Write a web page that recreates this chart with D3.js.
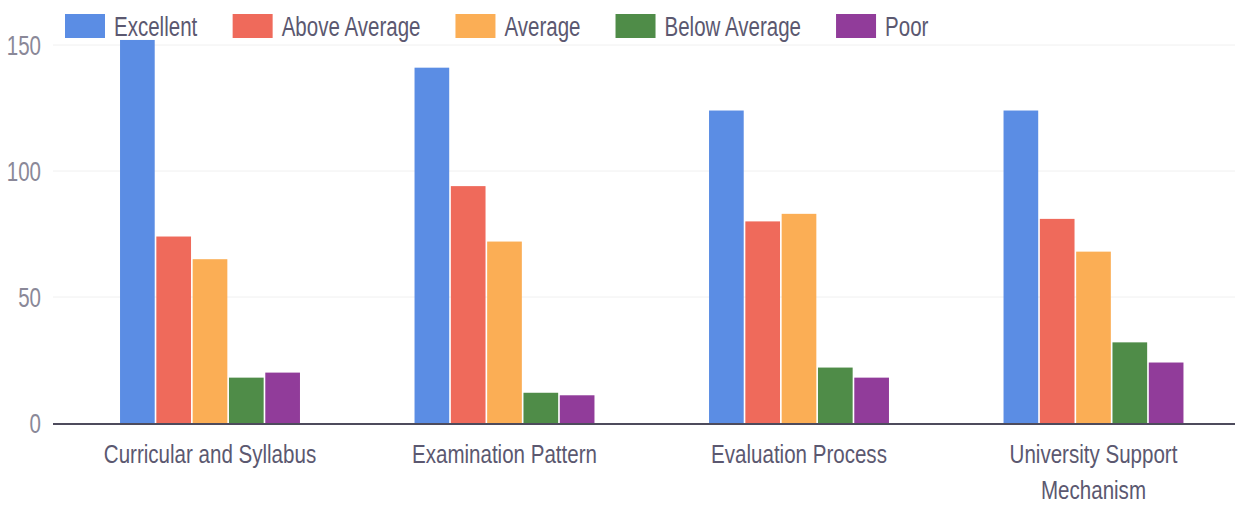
<!DOCTYPE html>
<html>
<head>
<meta charset="utf-8">
<script src="https://cdn.jsdelivr.net/npm/d3@7"></script>
<style>
  body { margin: 0; background: #fff; }
  text { font-family: "Liberation Sans", Arial, sans-serif; }
</style>
</head>
<body>
<script>
const width = 1235;
const height = 507;

const categories = [
  ["Curricular and Syllabus"],
  ["Examination Pattern"],
  ["Evaluation Process"],
  ["University Support", "Mechanism"]
];
const seriesNames = ["Excellent", "Above Average", "Average", "Below Average", "Poor"];
const excellent = [152, 141, 124, 124];
const aboveAverage = [74, 94, 80, 81];
const average = [65, 72, 83, 68];
const belowAverage = [18, 12, 22, 32];
const poor = [20, 11, 18, 24];
const yTicks = [0, 50, 100, 150];
const colors = ["#5b8de4", "#ef6a5b", "#fbae55", "#4f8c48", "#913c9a"];

const series = [excellent, aboveAverage, average, belowAverage, poor];
const catKeys = categories.map(c => c.join(" "));

// squeeze text horizontally: the source font is tall and narrow
function squeeze(sel, k) {
  sel.each(function() {
    var len = this.getComputedTextLength();
    d3.select(this).attr("textLength", len * k).attr("lengthAdjust", "spacingAndGlyphs");
  });
}

var svg = d3
  .select("body")
  .append("svg")
  .attr("width", width)
  .attr("height", height);

var x0 = d3.scaleBand()
  .domain(catKeys)
  .range([62.75, 1240.75])
  .paddingInner(0.389)
  .paddingOuter(0.1945);

var x1 = d3.scaleBand()
  .domain(seriesNames)
  .range([0, x0.bandwidth()])
  .paddingInner(0.045);

var y = d3.scaleLinear()
  .domain([0, 150])
  .range([423, 45]);

// gridlines
svg.append("g")
  .selectAll("line")
  .data(yTicks.slice(1))
  .enter()
  .append("line")
  .attr("x1", 53)
  .attr("x2", width)
  .attr("y1", d => y(d))
  .attr("y2", d => y(d))
  .attr("stroke", "#f0f0f0")
  .attr("stroke-width", 1);

// y tick labels
svg.append("g")
  .selectAll("text")
  .data(yTicks)
  .enter()
  .append("text")
  .attr("x", 41)
  .attr("y", d => y(d) + 10)
  .attr("text-anchor", "end")
  .attr("font-size", 27)
  .attr("fill", "#8a8898")
  .text(d => d)
  .call(squeeze, 0.76);

// bars
var groups = svg.append("g")
  .selectAll("g")
  .data(catKeys)
  .enter()
  .append("g")
  .attr("transform", d => "translate(" + x0(d) + ",0)");

groups.selectAll("rect")
  .data((d, i) => seriesNames.map((s, j) => ({ key: s, value: series[j][i], j: j })))
  .enter()
  .append("rect")
  .attr("x", d => x1(d.key))
  .attr("width", x1.bandwidth())
  .attr("y", d => y(d.value))
  .attr("height", d => y(0) - y(d.value))
  .attr("fill", d => colors[d.j]);

// baseline
svg.append("line")
  .attr("x1", 53)
  .attr("x2", width)
  .attr("y1", y(0) + 1)
  .attr("y2", y(0) + 1)
  .attr("stroke", "#4d4b5c")
  .attr("stroke-width", 2);

// category labels
var catLabels = svg.append("g")
  .selectAll("text")
  .data(categories)
  .enter()
  .append("text")
  .attr("x", (d, i) => x0(catKeys[i]) + x0.bandwidth() / 2)
  .attr("y", 463)
  .attr("text-anchor", "middle")
  .attr("font-size", 26)
  .attr("fill", "#5b5870");

catLabels.selectAll("tspan")
  .data(d => d)
  .enter()
  .append("tspan")
  .attr("x", function() { return d3.select(this.parentNode).attr("x"); })
  .attr("dy", (d, i) => i === 0 ? 0 : 36)
  .text(d => d);

catLabels.selectAll("tspan").call(squeeze, 0.79);

// legend
var legend = svg.append("g").attr("transform", "translate(65,14)");
var lx = 0;
seriesNames.forEach(function(name, i) {
  var item = legend.append("g").attr("transform", "translate(" + lx + ",0)");
  item.append("rect")
    .attr("width", 40)
    .attr("height", 24)
    .attr("fill", colors[i]);
  var t = item.append("text")
    .attr("x", 49)
    .attr("y", 22)
    .attr("font-size", 27)
    .attr("fill", "#5b5870")
    .text(name)
    .call(squeeze, 0.76);
  lx += 49 + t.node().getBBox().width + 35;
});
</script>
</body>
</html>
